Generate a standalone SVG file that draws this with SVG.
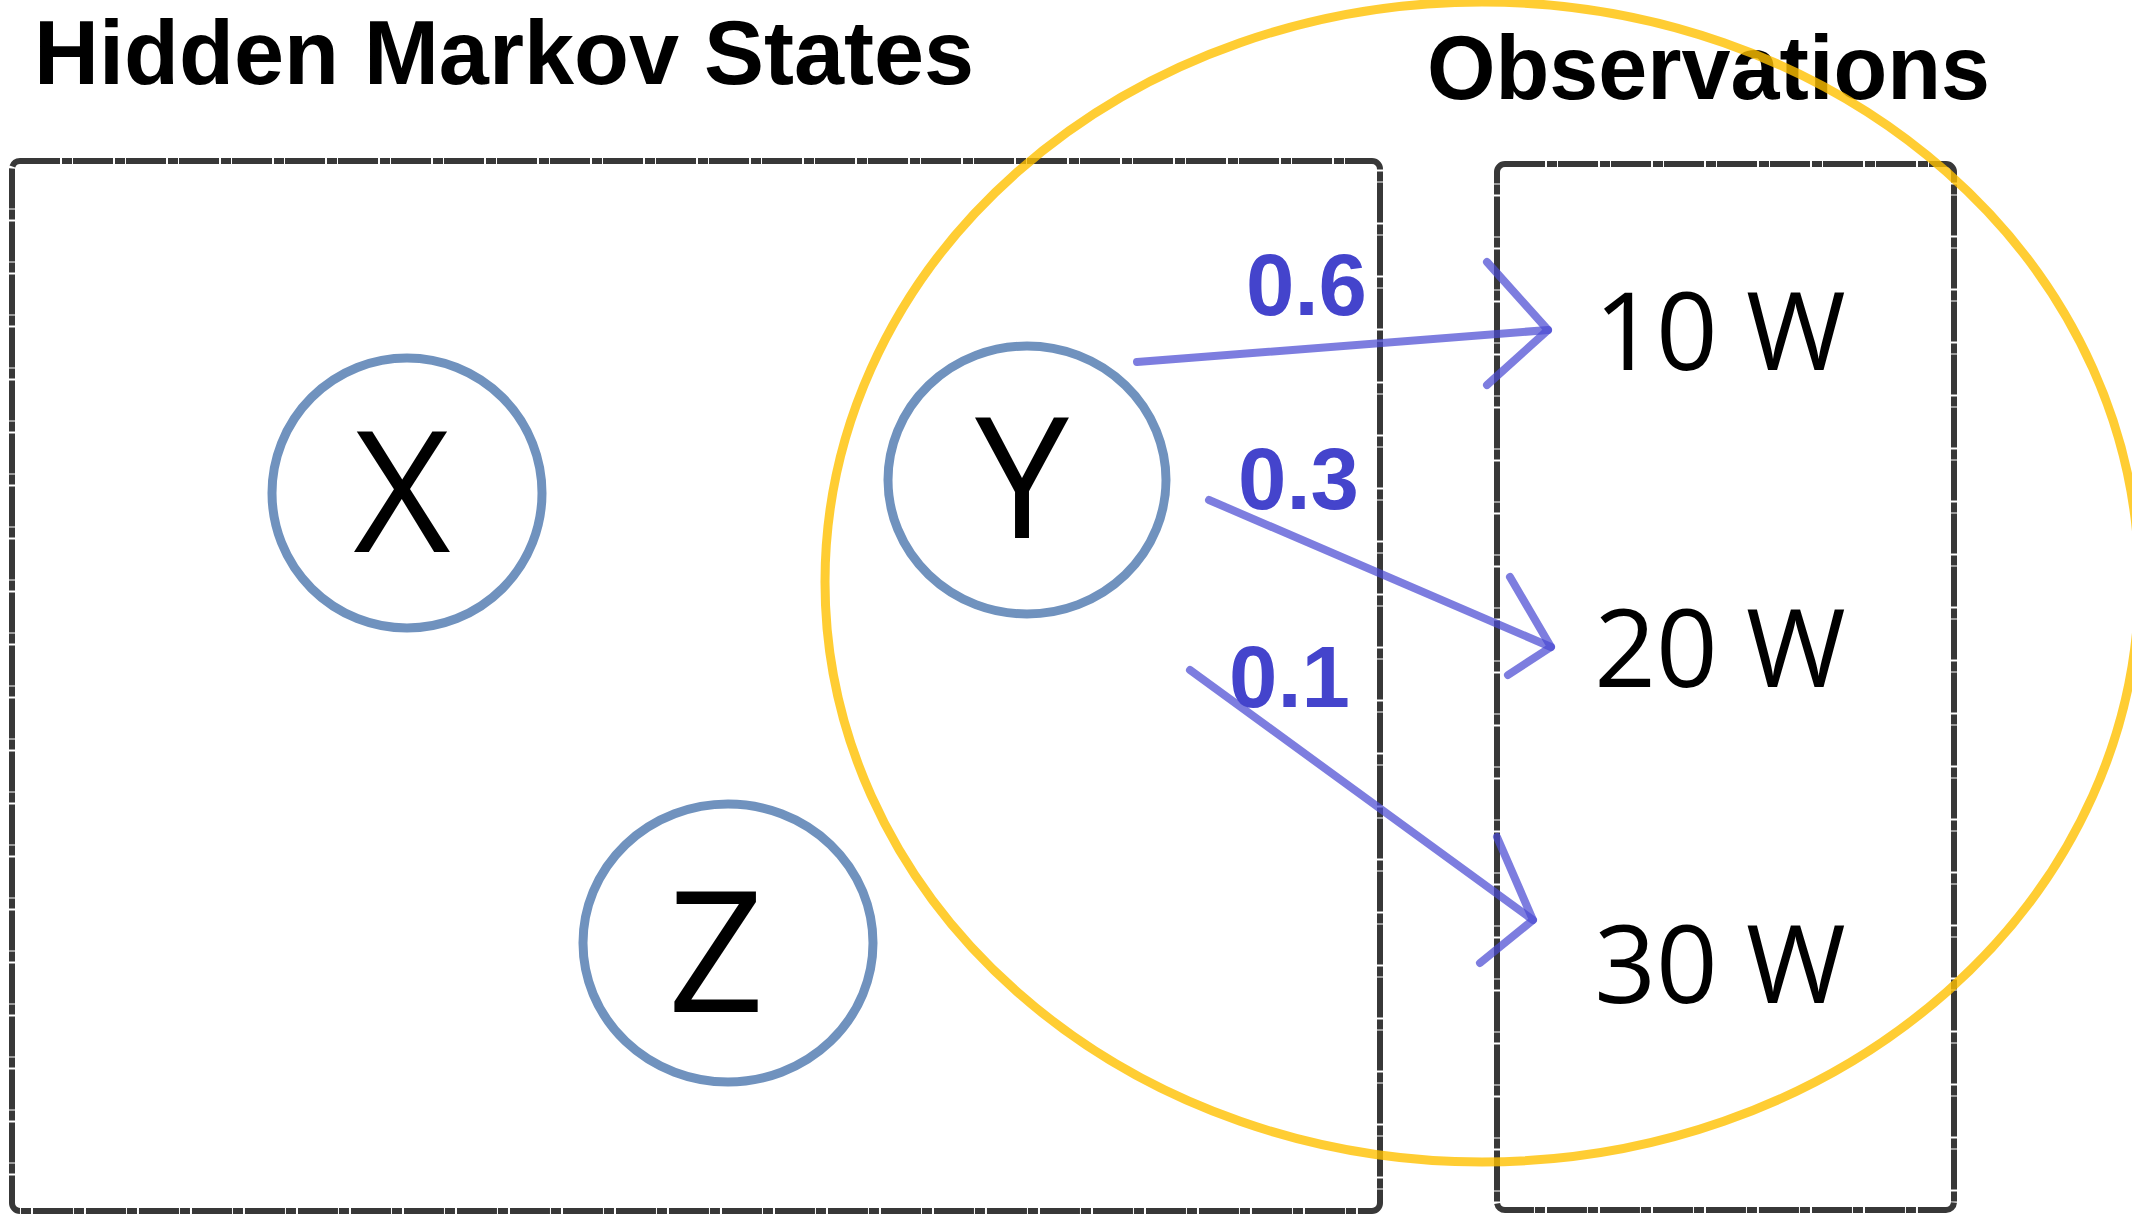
<svg xmlns="http://www.w3.org/2000/svg" width="2132" height="1215" viewBox="0 0 2132 1215">
<style>
.frame{fill:none;stroke:#383838;stroke-width:6;stroke-dasharray:40 2 10 1}
.title{font-family:"Liberation Sans",Arial,sans-serif;font-weight:bold;font-size:90px;fill:#000}
.state{fill:none;stroke:#7092BE;stroke-width:9}
.letter{font-family:"Open Sans","Liberation Sans",sans-serif;font-size:168px;fill:#000;text-anchor:middle}
.obs{font-family:"Open Sans","Liberation Sans",sans-serif;font-size:108px;fill:#000;text-anchor:middle}
.edge{fill:none;stroke:#4B4BD2;stroke-width:8;stroke-linecap:round;stroke-linejoin:round;opacity:0.72}
.prob{font-family:"Liberation Sans",Arial,sans-serif;font-weight:bold;font-size:87px;fill:#4444CC}
.halo{fill:none;stroke:#FFC000;stroke-width:9;opacity:0.8}
</style>
<rect width="2132" height="1215" fill="#fff"/>
<g id="hidden-states-box"><rect class="frame" x="12" y="161" width="1368" height="1050" rx="8"/></g>
<g id="observations-box"><rect class="frame" x="1497" y="164" width="457" height="1046" rx="8"/></g>
<g id="title-hidden"><text class="title" x="34" y="84" textLength="940" lengthAdjust="spacingAndGlyphs">Hidden Markov States</text></g>
<g id="title-observations"><text class="title" x="1427" y="99" textLength="563" lengthAdjust="spacingAndGlyphs">Observations</text></g>
<g id="state-X"><circle class="state" cx="407" cy="493" r="135"/><text class="letter" x="402" y="552">X</text></g>
<g id="state-Y"><ellipse class="state" cx="1027" cy="480" rx="139" ry="134"/><text class="letter" x="1022" y="538">Y</text></g>
<g id="state-Z"><ellipse class="state" cx="728" cy="943" rx="145" ry="139"/><text class="letter" x="716" y="1012">Z</text></g>
<g id="obs-10W"><text class="obs" x="1720" y="370">10 W</text></g>
<g id="obs-20W"><text class="obs" x="1720" y="687">20 W</text></g>
<g id="obs-30W"><text class="obs" x="1720" y="1003">30 W</text></g>
<g id="highlight"><ellipse class="halo" cx="1482" cy="582" rx="657" ry="580"/></g>
<g id="connectors">
<path class="edge" d="M1137 362 L1548 330"/>
<polyline class="edge" points="1487,262 1548,330 1487,385"/>
<path class="edge" d="M1209 500 L1551 647"/>
<polyline class="edge" points="1510,577 1551,647 1508,675"/>
<path class="edge" d="M1190 670 Q1300 750 1533 920"/>
<polyline class="edge" points="1497,837 1533,920 1480,963"/>
<text class="prob" x="1246" y="315">0.6</text>
<text class="prob" x="1238" y="509">0.3</text>
<text class="prob" x="1229" y="707">0.1</text>
</g>
</svg>
